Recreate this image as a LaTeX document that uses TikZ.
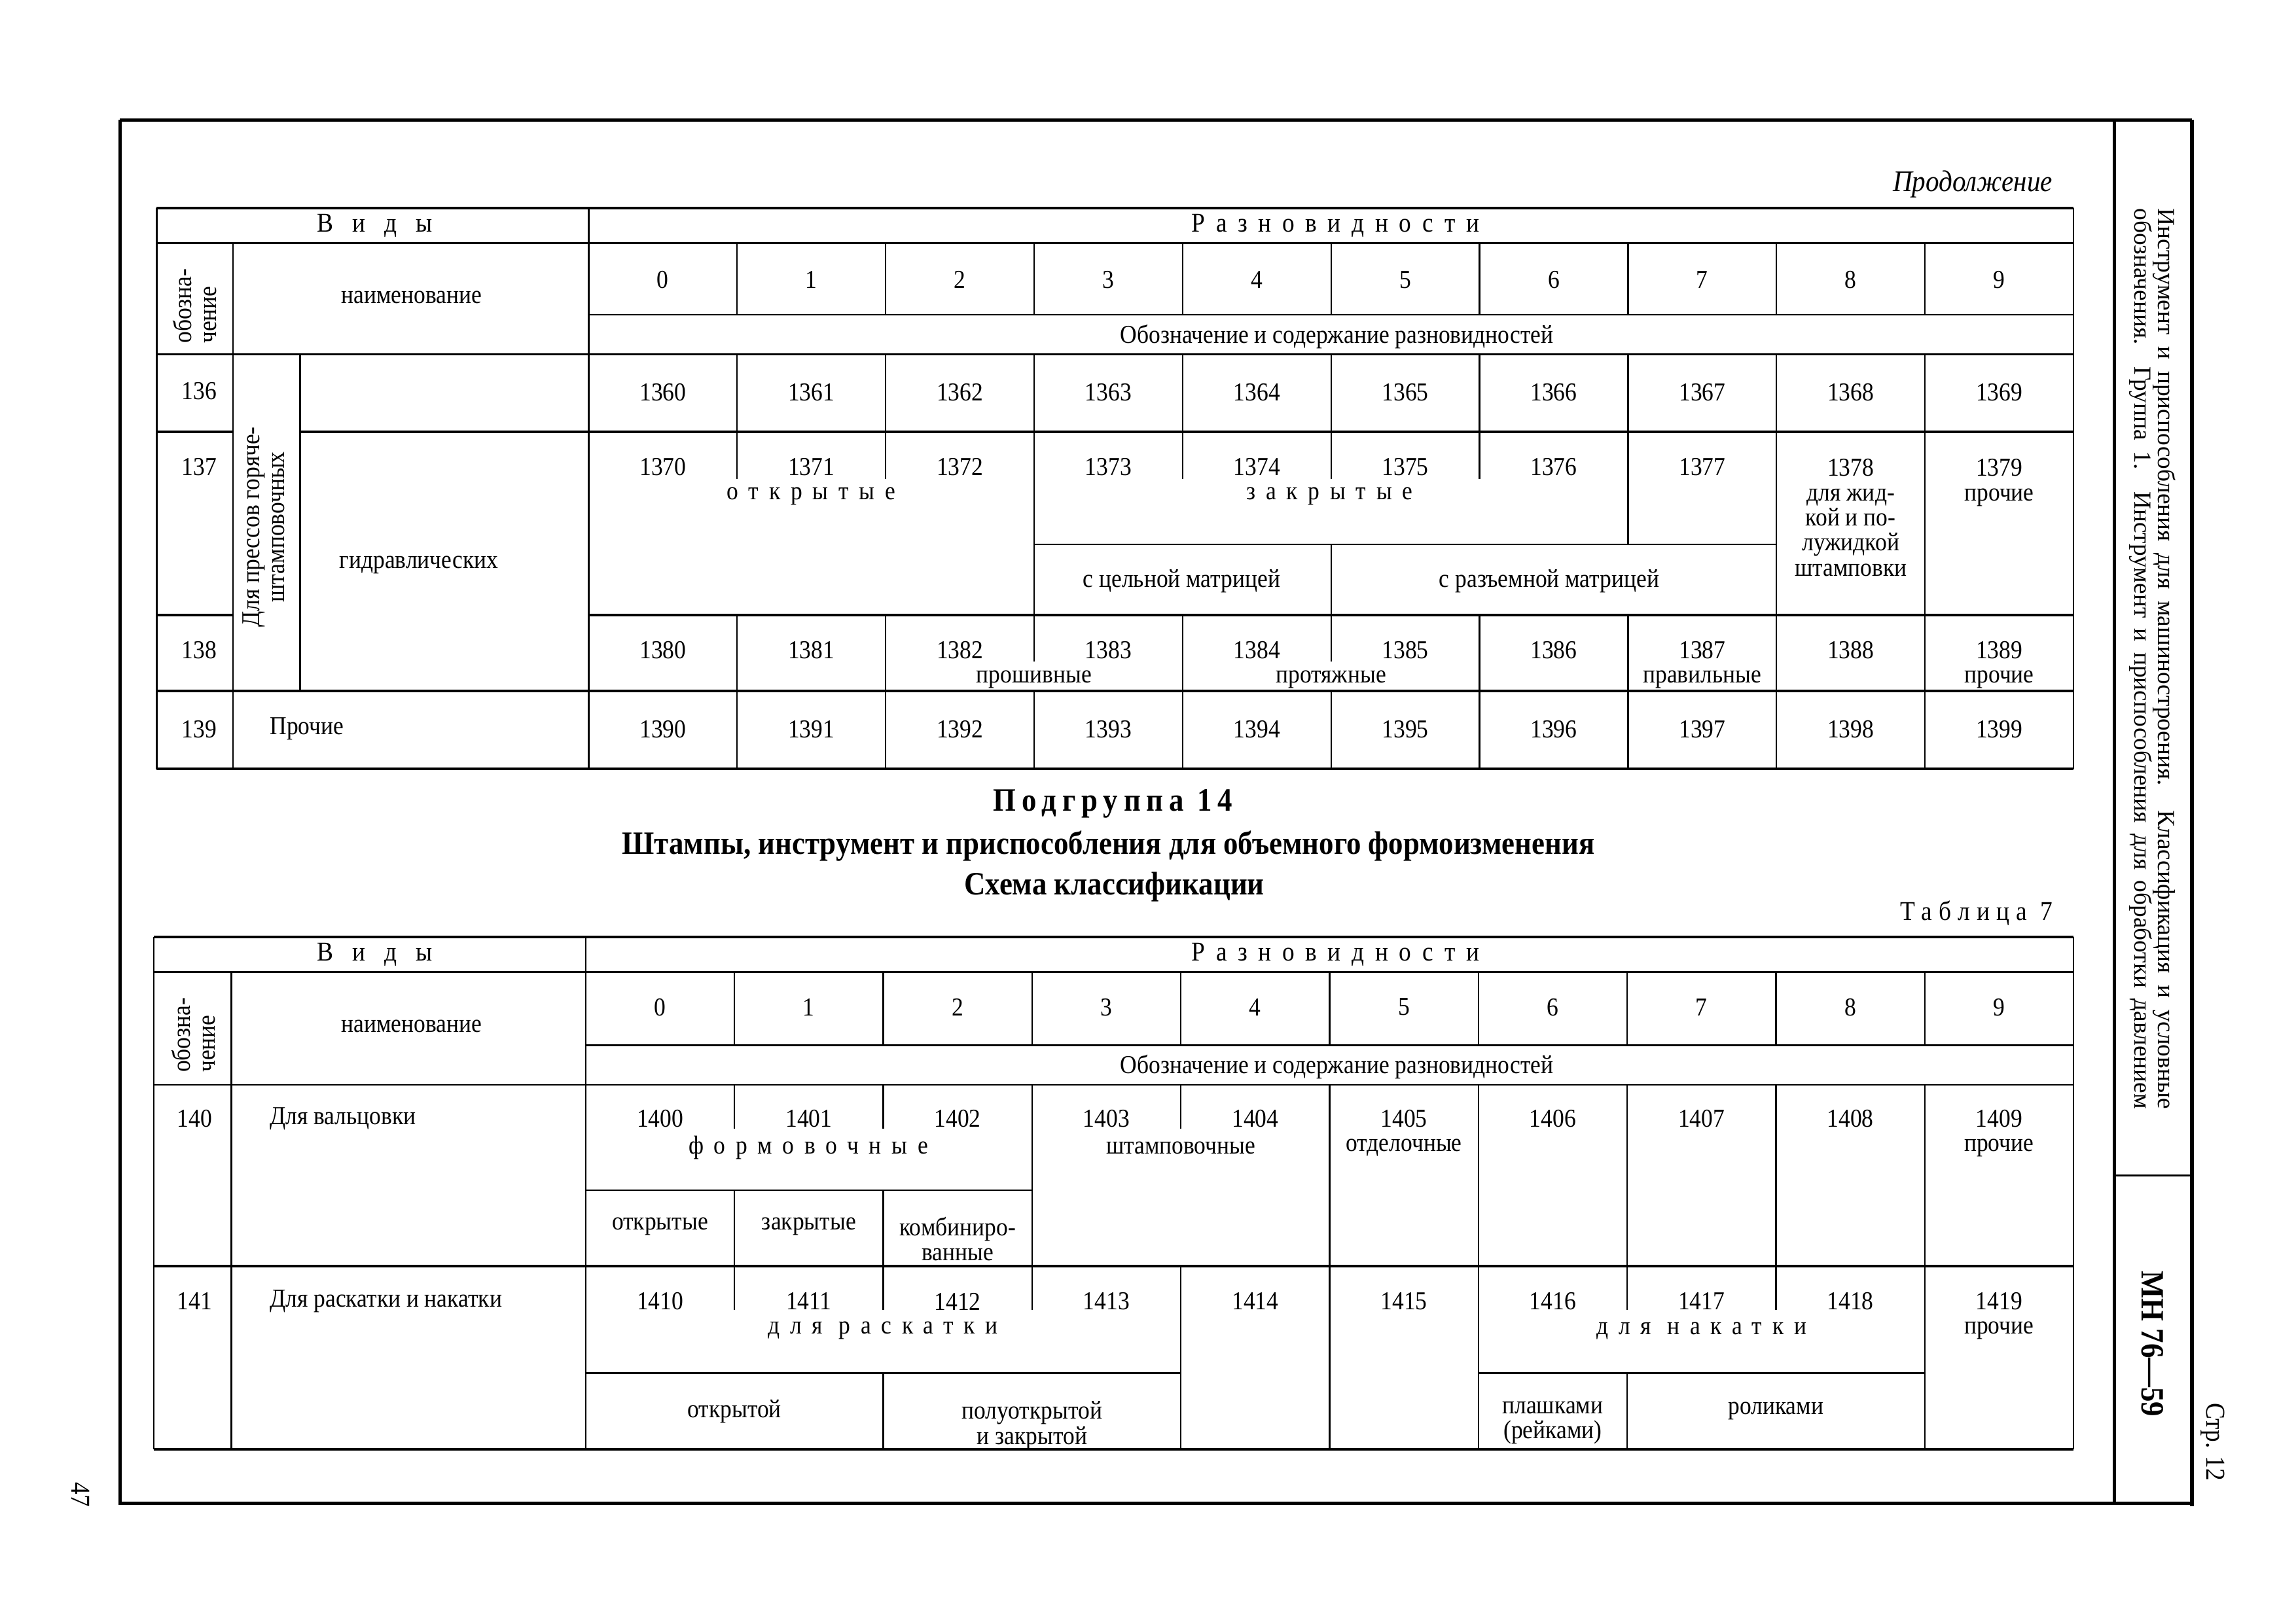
\documentclass[tikz,border=0pt]{standalone}
\usepackage{fontspec}
\setmainfont{Liberation Serif}[FakeStretch=0.9]
\newfontfamily\widefont{Liberation Serif}

\newcommand{\colT}[1]{402+101.4*(#1)}
\newcommand{\colB}[1]{400+101.6*(#1)}
\newcommand{\spread}[2]{{\addfontfeature{LetterSpace=#1}#2}}

\tikzset{
  cell/.style={font=\fontsize{9.5}{9.2}\selectfont, inner sep=0pt, align=center},
  hdr/.style={font=\fontsize{10}{10}\selectfont, inner sep=0pt},
  title/.style={font=\fontsize{12}{12}\selectfont\bfseries, inner sep=0pt},
  rule/.style={line width=0.55pt},
  heavyrule/.style={line width=1pt},
  framerule/.style={line width=1.2pt},
}

\begin{document}
\begin{tikzpicture}[x=0.018941cm, y=-0.018941cm]
\useasboundingbox (0,0) rectangle (1568,1109);

% page frame
\draw[framerule] (82,82) -- (1497,82);
\draw[framerule] (82,82) -- (82,1027) -- (1497,1027);
\draw[framerule] (1444,82) -- (1444,1027);
\draw[line width=1.5pt] (1497,82) -- (1497,1029);
\draw[rule] (1444,803) -- (1497,803);

% side strip
\node[rotate=-90, inner sep=0pt, font=\widefont\fontsize{9}{9}\selectfont] (strip1) at (1478,450)
  {\makebox[11.65cm][s]{Инструмент и приспособления для машиностроения. Классификация и условные}};
\node[rotate=-90, inner sep=0pt, font=\widefont\fontsize{9}{9}\selectfont] (strip2) at (1462,450)
  {\makebox[11.65cm][s]{обозначения. Группа 1. Инструмент и приспособления для обработки давлением}};
\node[rotate=-90, title] (mh) at (1470,918) {МН 76—59};
\node[rotate=-90, hdr] (page) at (1511,985) {Стр. 12};
\node[rotate=-90, hdr] (folio) at (55,1021) {47};

\node[anchor=east, inner sep=0pt, font=\fontsize{11}{11}\selectfont\itshape] (cont) at (1402,126) {Продолжение};

% upper table, rules
\draw[heavyrule] (107,142) -- (1416,142);
\draw[rule] (107,166) -- (1416,166);
\draw[rule] (402,215) -- (1416,215);
\draw[rule] (107,242) -- (1416,242);
\draw[heavyrule] (107,295) -- (159,295) (205,295) -- (1416,295);
\draw[rule] ({\colT{3}},372) -- ({\colT{8}},372);
\draw[heavyrule] (107,420) -- (159,420) (402,420) -- (1416,420);
\draw[heavyrule] (107,472) -- (1416,472);
\draw[heavyrule] (107,525) -- (1416,525);
\draw[rule] (107,142) -- (107,525) (1416,142) -- (1416,525) (159,166) -- (159,525)
  (205,242) -- (205,472) (402,142) -- (402,525);
\foreach \i in {1,...,9} {
  \draw[rule] ({\colT{\i}},166) -- ({\colT{\i}},215);
  \draw[rule] ({\colT{\i}},242) -- ({\colT{\i}},295);
  \draw[rule] ({\colT{\i}},472) -- ({\colT{\i}},525);
}
\foreach \i in {3,8,9} \draw[rule] ({\colT{\i}},295) -- ({\colT{\i}},420);
\foreach \i in {1,2,4,5,6} \draw[rule] ({\colT{\i}},295) -- ({\colT{\i}},327);
\draw[rule] ({\colT{7}},295) -- ({\colT{7}},372);
\draw[rule] ({\colT{5}},372) -- ({\colT{5}},420);
\foreach \i in {1,2,4,6,7,8,9} \draw[rule] ({\colT{\i}},420) -- ({\colT{\i}},472);
\foreach \i in {3,5} \draw[rule] ({\colT{\i}},420) -- ({\colT{\i}},452);

% upper table, head
\node[hdr] (vidyT) at (256,154) {\spread{70}{Виды}};
\node[hdr] (raznT) at (912,154) {\spread{40}{Разновидности}};
\foreach \i in {0,...,9} \node[cell] (dT\i) at ({\colT{\i}+50.7},191) {\i};
\node[cell, rotate=90, align=left] (oboznT) at (133,209) {обозна-\\чение};
\node[cell] (naimT) at (281,203) {наименование};
\node[cell] (soderT) at (913,230) {Обозначение и содержание разновидностей};

% upper table, rows 136-139
\node[cell] (k136) at (136,267) {136};
\node[cell] (k137) at (136,319) {137};
\node[cell] (k138) at (136,444) {138};
\node[cell] (k139) at (136,498) {139};
\node[cell, rotate=90] (press) at (180,360) {Для прессов горяче-\\штамповочных};
\node[cell] (gidr) at (286,386) {гидравлических};
\node[cell, anchor=west] (prochT) at (184,498) {Прочие};
\foreach \i in {0,...,9} {
  \node[cell] (v136\i) at ({\colT{\i}+50.7},268) {136\i};
  \node[cell] (v138\i) at ({\colT{\i}+50.7},444) {138\i};
  \node[cell] (v139\i) at ({\colT{\i}+50.7},498) {139\i};
}
\foreach \i in {0,...,7} \node[cell] (v137\i) at ({\colT{\i}+50.7},319) {137\i};
\node[cell, anchor=north] (v1378) at ({\colT{8}+50.7},313) {1378\\для жид-\\кой и по-\\лужидкой\\штамповки};
\node[cell, anchor=north] (v1379) at ({\colT{9}+50.7},313) {1379\\прочие};
\node[cell] (otkrT) at (554,339) {\spread{40}{открытые}};
\node[cell] (zakrT) at (908,339) {\spread{40}{закрытые}};
\node[cell] (celn) at (807,397) {с цельной матрицей};
\node[cell] (razem) at (1058,397) {с разъемной матрицей};
\node[cell] (proshiv) at ({\colT{3}},464) {прошивные};
\node[cell] (protyazh) at ({\colT{5}},464) {протяжные};
\node[cell] (pravil) at ({\colT{7}+50.7},464) {правильные};
\node[cell] (proch138) at ({\colT{9}+50.7},464) {прочие};

% headings
\node[title] (podgr) at (760,549) {\spread{18}{Подгруппа 14}};
\node[title] (shtamp) at (757,578) {Штампы, инструмент и приспособления для объемного формоизменения};
\node[title] (shema) at (761,606) {Схема классификации};
\node[hdr, anchor=east] (tabl) at (1402,624) {\spread{25}{Таблица 7}};

% lower table, rules
\draw[heavyrule] (105,640) -- (1416,640);
\draw[rule] (105,664) -- (1416,664);
\draw[rule] (400,714) -- (1416,714);
\draw[rule] (105,741) -- (1416,741);
\draw[rule] (400,813) -- ({\colB{3}},813);
\draw[heavyrule] (105,865) -- (1416,865);
\draw[rule] (400,938) -- ({\colB{4}},938) ({\colB{6}},938) -- ({\colB{9}},938);
\draw[heavyrule] (105,990) -- (1416,990);
\draw[rule] (105,640) -- (105,990) (1416,640) -- (1416,990) (158,664) -- (158,990)
  (400,640) -- (400,990);
\foreach \i in {1,...,9} \draw[rule] ({\colB{\i}},664) -- ({\colB{\i}},714);
\foreach \i in {3,5,6,7,8,9} \draw[rule] ({\colB{\i}},741) -- ({\colB{\i}},865);
\foreach \i in {1,2,4} \draw[rule] ({\colB{\i}},741) -- ({\colB{\i}},771);
\foreach \i in {1,2} \draw[rule] ({\colB{\i}},813) -- ({\colB{\i}},865);
\foreach \i in {4,5,6,9} \draw[rule] ({\colB{\i}},865) -- ({\colB{\i}},990);
\foreach \i in {1,2,3,7,8} \draw[rule] ({\colB{\i}},865) -- ({\colB{\i}},895);
\foreach \i in {2,7} \draw[rule] ({\colB{\i}},938) -- ({\colB{\i}},990);

% lower table, head
\node[hdr] (vidyB) at (256,652) {\spread{70}{Виды}};
\node[hdr] (raznB) at (912,652) {\spread{40}{Разновидности}};
\foreach \i in {0,...,9} \node[cell] (dB\i) at ({\colB{\i}+50.8},688) {\i};
\node[cell, rotate=90, align=left] (oboznB) at (132,707) {обозна-\\чение};
\node[cell] (naimB) at (281,701) {наименование};
\node[cell] (soderB) at (913,729) {Обозначение и содержание разновидностей};

% lower table, rows 140-141
\node[cell] (k140) at (133,764) {140};
\node[cell, anchor=west] (valc) at (184,764) {Для вальцовки};
\node[cell] (k141) at (133,889) {141};
\node[cell, anchor=west] (raskat) at (184,889) {Для раскатки и накатки};
\foreach \i in {0,...,9} {
  \node[cell] (v140\i) at ({\colB{\i}+50.8},764) {140\i};
  \node[cell] (v141\i) at ({\colB{\i}+50.8},889) {141\i};
}
\node[cell] (formov) at (552,784) {\spread{40}{формовочные}};
\node[cell] (shtampov) at ({\colB{4}},784) {штамповочные};
\node[cell] (otdel) at ({\colB{5}+50.8},784) {отделочные};
\node[cell] (proch140) at ({\colB{9}+50.8},784) {прочие};
\node[cell] (otkr140) at ({\colB{0}+50.8},838) {открытые};
\node[cell] (zakr140) at ({\colB{1}+50.8},838) {закрытые};
\node[cell, anchor=north] (kombi) at ({\colB{2}+50.8},831) {комбиниро-\\ванные};
\node[cell] (dlyarask) at (603,909) {\spread{40}{для раскатки}};
\node[cell] (dlyanak) at (1162,909) {\spread{40}{для накатки}};
\node[cell] (proch141) at ({\colB{9}+50.8},909) {прочие};
\node[cell] (otkrytoj) at ({\colB{1}},964) {открытой};
\node[cell, anchor=north] (poluotkr) at ({\colB{3}},957) {полуоткрытой\\и закрытой};
\node[cell, anchor=north] (plashk) at ({\colB{6}+50.8},957) {плашками\\(рейками)};
\node[cell] (rolik) at ({\colB{8}},964) {роликами};
\end{tikzpicture}
\end{document}
